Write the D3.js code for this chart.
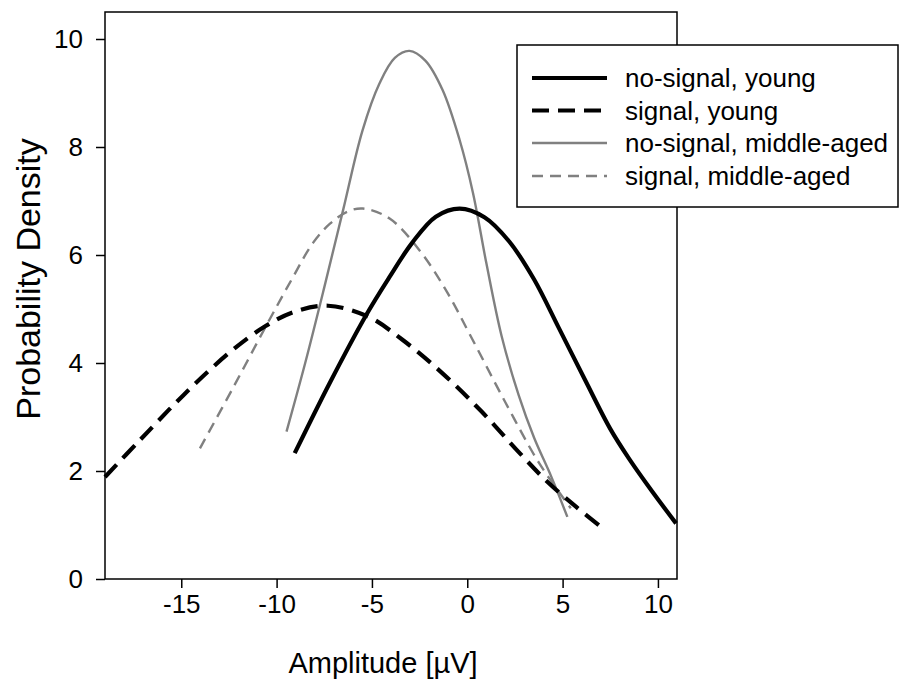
<!DOCTYPE html>
<html>
<head>
<meta charset="utf-8">
<script src="https://cdn.jsdelivr.net/npm/d3@7"></script>
<style>
  html, body { margin: 0; padding: 0; background: #fff; }
  svg { display: block; font-family: "Liberation Sans", Arial, sans-serif; }
</style>
</head>
<body>
<svg id="chart" width="901" height="681"></svg>
<script>
// Amplitude axis values (µV) and probability density for each group
const noSignalYoungX = [-9.05, -7.2, -5.3, -4.1, -2.9, -1.65, -0.4, 0.9, 2.2, 3.5, 4.8, 6.2, 7.5, 8.5, 9.7, 10.95];
const noSignalYoungY = [2.33, 3.64, 4.89, 5.58, 6.22, 6.71, 6.86, 6.70, 6.25, 5.55, 4.65, 3.67, 2.78, 2.22, 1.62, 1.03];

const signalYoungX = [-19.0, -17.2, -14.9, -12.45, -10.6, -9.05, -7.3, -5.2, -3.4, -1.4, 0.7, 2.7, 4.2, 5.7, 7.1];
const signalYoungY = [1.89, 2.56, 3.40, 4.20, 4.68, 4.95, 5.06, 4.86, 4.43, 3.84, 3.12, 2.35, 1.80, 1.34, 0.94];

const noSignalMidX = [-9.48, -8.5, -7.5, -6.5, -5.5, -4.6, -3.8, -3.03, -2.2, -1.3, -0.4, 0.3, 1.0, 1.8, 2.7, 3.5, 4.4, 5.25];
const noSignalMidY = [2.73, 4.0, 5.4, 6.85, 8.3, 9.18, 9.65, 9.78, 9.6, 9.06, 8.13, 7.15, 5.85, 4.5, 3.4, 2.62, 1.9, 1.15];

const signalMidX = [-14.02, -12.27, -10.53, -9.22, -8.1, -7.2, -6.3, -5.48, -4.09, -2.51, -1.12, 0.28, 2.03, 3.78, 5.43];
const signalMidY = [2.42, 3.55, 4.70, 5.54, 6.22, 6.58, 6.80, 6.86, 6.68, 6.09, 5.35, 4.43, 3.25, 2.14, 1.31];

const seriesNames = ["no-signal, young", "signal, young", "no-signal, middle-aged", "signal, middle-aged"];
const xTicks = [-15, -10, -5, 0, 5, 10];
const yTicks = [0, 2, 4, 6, 8, 10];

const series = [
  { name: seriesNames[0], xs: noSignalYoungX, ys: noSignalYoungY, color: "#000", width: 4.2, dash: null },
  { name: seriesNames[1], xs: signalYoungX, ys: signalYoungY, color: "#000", width: 4.2, dash: "17,9" },
  { name: seriesNames[2], xs: noSignalMidX, ys: noSignalMidY, color: "#808080", width: 2.4, dash: null },
  { name: seriesNames[3], xs: signalMidX, ys: signalMidY, color: "#808080", width: 2.4, dash: "11,7" }
];

const svg = d3.select("#chart");
const plotLeft = 105, plotRight = 677, plotTop = 12, plotBottom = 579;

const x = d3.scaleLinear().domain([-19, 11]).range([plotLeft, plotRight]);
const y = d3.scaleLinear().domain([0, 10.5]).range([plotBottom, plotTop]);

// axes (plain hyphen for negative labels)
const fmt = d => String(d);
const xAxis = svg.append("g")
  .attr("transform", `translate(0,${plotBottom})`)
  .call(d3.axisBottom(x).tickValues(xTicks).tickFormat(fmt).tickSize(9).tickPadding(7));
const yAxis = svg.append("g")
  .attr("transform", `translate(${plotLeft},0)`)
  .call(d3.axisLeft(y).tickValues(yTicks).tickFormat(fmt).tickSize(9).tickPadding(13));

[xAxis, yAxis].forEach(g => {
  g.select(".domain").remove();
  g.selectAll("line").attr("stroke", "#000").attr("stroke-width", 1.5);
  g.selectAll("text").attr("fill", "#000").style("font-size", "26px")
    .style("font-family", "'Liberation Sans', Arial, sans-serif");
});

// plot frame
svg.append("rect")
  .attr("x", plotLeft).attr("y", plotTop)
  .attr("width", plotRight - plotLeft).attr("height", plotBottom - plotTop)
  .attr("fill", "none").attr("stroke", "#000").attr("stroke-width", 1.5);

// curves
const line = d3.line()
  .x(d => x(d[0]))
  .y(d => y(d[1]))
  .curve(d3.curveCatmullRom.alpha(0.5));

svg.append("g").selectAll("path")
  .data(series.slice().reverse())
  .join("path")
  .attr("d", s => line(s.xs.map((v, i) => [v, s.ys[i]])))
  .attr("fill", "none")
  .attr("stroke", s => s.color)
  .attr("stroke-width", s => s.width)
  .attr("stroke-dasharray", s => s.dash)
  .attr("stroke-linejoin", "round");

// axis titles
svg.append("text")
  .attr("x", 383).attr("y", 673)
  .attr("text-anchor", "middle")
  .style("font-size", "29px")
  .text("Amplitude [µV]");

svg.append("text")
  .attr("transform", "translate(28,279) rotate(-90)")
  .attr("text-anchor", "middle")
  .attr("dy", "0.35em")
  .style("font-size", "34px")
  .text("Probability Density");

// legend
const legend = svg.append("g");
legend.append("rect")
  .attr("x", 517).attr("y", 45)
  .attr("width", 381).attr("height", 162)
  .attr("fill", "#fff").attr("stroke", "#000").attr("stroke-width", 1.5);

const rowY = [78, 110.5, 143, 176];
series.forEach((s, i) => {
  legend.append("line")
    .attr("x1", 532).attr("x2", 607)
    .attr("y1", rowY[i]).attr("y2", rowY[i])
    .attr("stroke", s.color)
    .attr("stroke-width", s.width)
    .attr("stroke-dasharray", s.dash);
  legend.append("text")
    .attr("x", 625).attr("y", rowY[i])
    .attr("dy", "0.35em")
    .style("font-size", "26px")
    .text(s.name);
});
</script>
</body>
</html>
